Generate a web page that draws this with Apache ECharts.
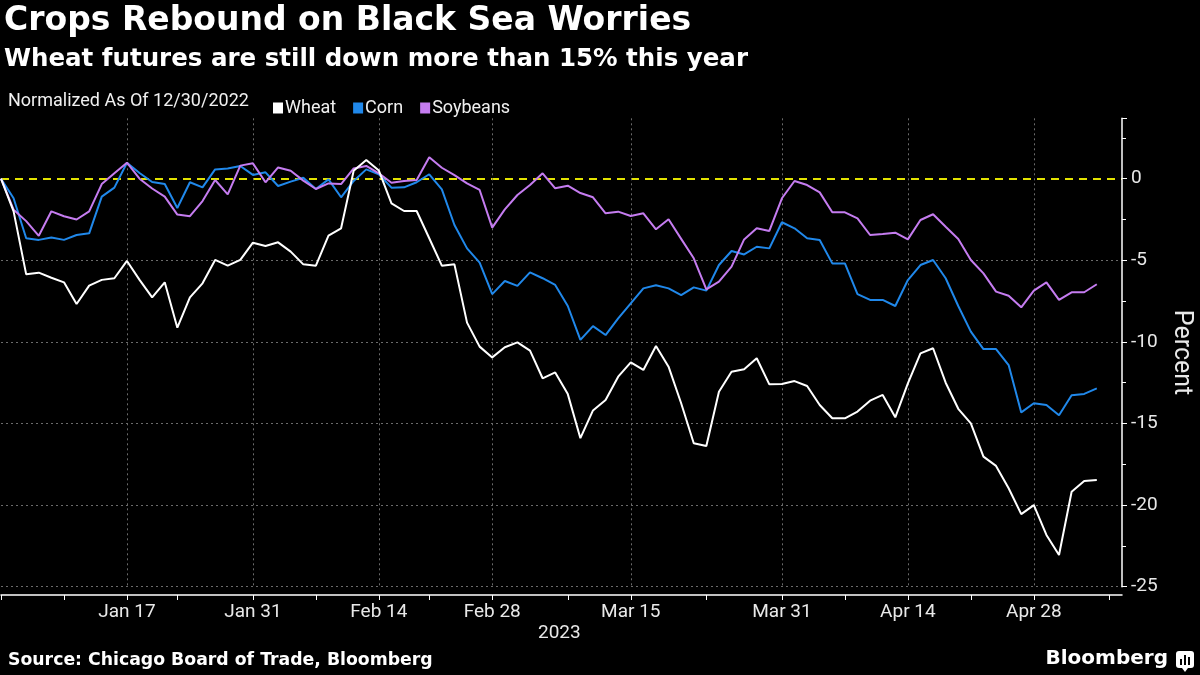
<!DOCTYPE html>
<html>
<head>
<meta charset="utf-8">
<title>Crops Rebound on Black Sea Worries</title>
<script src="https://cdn.jsdelivr.net/npm/echarts@6.0.0/dist/echarts.min.js"></script>
<style>
html, body { margin: 0; padding: 0; background: #000; }
#chart { width: 1200px; height: 675px; }
</style>
</head>
<body>
<div id="chart"></div>
<script>
// trading days, normalized to 12/30/2022 (two empty days pad the right end)
var dates = [
	'12/30',
	'1/3','1/4','1/5','1/6','1/9','1/10','1/11','1/12','1/13','1/17','1/18','1/19','1/20',
	'1/23','1/24','1/25','1/26','1/27','1/30','1/31',
	'2/1','2/2','2/3','2/6','2/7','2/8','2/9','2/10','2/13','2/14','2/15','2/16','2/17',
	'2/21','2/22','2/23','2/24','2/27','2/28',
	'3/1','3/2','3/3','3/6','3/7','3/8','3/9','3/10','3/13','3/14','3/15','3/16','3/17',
	'3/20','3/21','3/22','3/23','3/24','3/27','3/28','3/29','3/30','3/31',
	'4/3','4/4','4/5','4/6','4/7','4/10','4/11','4/12','4/13','4/14','4/17','4/18','4/19',
	'4/20','4/21','4/24','4/25','4/26','4/27','4/28',
	'5/1','5/2','5/3','5/4','5/5','5/8','5/9'
];
var labelDates = ['1/17','1/31','2/14','2/28','3/15','3/31','4/14','4/28'];
var tickDates = ['12/30','1/9','1/17','1/23','1/31','2/7','2/14','2/21','2/28','3/8','3/15',
	'3/23','3/31','4/7','4/14','4/21','4/28','5/8'];
var monthNames = ['Jan','Feb','Mar','Apr','May','Jun','Jul','Aug','Sep','Oct','Nov','Dec'];

var wheat = [
	0, -2.0, -5.86, -5.76, -6.07, -6.35, -7.68, -6.55, -6.2, -6.1, -5.04, -6.2, -7.27, -6.35,
	-9.13, -7.27, -6.41, -4.98, -5.33, -4.98, -3.92, -4.12, -3.9, -4.47, -5.25, -5.33, -3.49,
	-3.04, 0.49, 1.15, 0.5, -1.51, -1.98, -1.98, -3.65, -5.33, -5.25, -8.82, -10.29, -10.95,
	-10.33, -10.03, -10.54, -12.23, -11.87, -13.2, -15.9, -14.2, -13.56, -12.13, -11.25, -11.72,
	-10.25, -11.52, -13.76, -16.21, -16.38, -13.05, -11.83, -11.68, -11.0, -12.6, -12.58, -12.4,
	-12.7, -13.87, -14.68, -14.68, -14.27, -13.6, -13.25, -14.62, -12.54, -10.7, -10.39, -12.5,
	-14.1, -14.99, -17.03, -17.6, -18.97, -20.55, -20.0, -21.83, -23.06, -19.18, -18.52, -18.46
];
var corn = [
	0, -1.2, -3.65, -3.75, -3.6, -3.75, -3.45, -3.35, -1.1, -0.55, 0.98, 0.35, -0.2, -0.33,
	-1.8, -0.22, -0.53, 0.57, 0.63, 0.78, 0.23, 0.39, -0.45, -0.18, 0.06, -0.63, -0.04, -1.14,
	-0.14, 0.57, 0.27, -0.55, -0.53, -0.22, 0.27, -0.65, -2.84, -4.27, -5.14, -7.07, -6.27,
	-6.57, -5.74, -6.1, -6.51, -7.8, -9.88, -9.03, -9.58, -8.56, -7.64, -6.72, -6.53, -6.72,
	-7.13, -6.66, -6.86, -5.29, -4.43, -4.64, -4.17, -4.27, -2.67, -3.04, -3.65, -3.76, -5.19,
	-5.19, -7.07, -7.43, -7.43, -7.8, -6.21, -5.29, -4.98, -6.1, -7.8, -9.37, -10.44, -10.44,
	-11.42, -14.32, -13.76, -13.87, -14.5, -13.27, -13.19, -12.85
];
var soybeans = [
	0, -1.9, -2.6, -3.5, -2.0, -2.3, -2.5, -2.0, -0.33, 0.33, 0.98, 0.0, -0.6, -1.1, -2.2,
	-2.3, -1.37, -0.08, -0.96, 0.8, 0.94, -0.22, 0.69, 0.49, -0.12, -0.63, -0.29, -0.33, 0.63,
	0.78, 0.33, -0.25, -0.14, -0.08, 1.31, 0.67, 0.22, -0.29, -0.69, -3.0, -1.88, -1.0, -0.39,
	0.33, -0.59, -0.43, -0.88, -1.14, -2.12, -2.02, -2.29, -2.12, -3.1, -2.49, -3.69, -4.88,
	-6.78, -6.31, -5.39, -3.72, -3.04, -3.2, -1.2, -0.14, -0.39, -0.84, -2.06, -2.06, -2.43,
	-3.45, -3.39, -3.31, -3.72, -2.53, -2.18, -2.95, -3.7, -4.98, -5.8, -6.92, -7.17, -7.88,
	-6.86, -6.35, -7.43, -6.96, -6.96, -6.47
];

var myChart = echarts.init(document.getElementById('chart'));
var grey = '#6b6b6b';
var clear = 'rgba(0,0,0,0)';
var font = 'Roboto, "Liberation Sans", sans-serif';
var boldFont = '"DejaVu Sans", "Liberation Sans", sans-serif';

var option = {
	backgroundColor: '#000',
	animation: false,
	textStyle: { fontFamily: font },
	grid: { left: 1, right: 78, top: 118.3, bottom: 88.3, outerBoundsMode: 'none' },
	legend: {
		data: ['Wheat', 'Corn', 'Soybeans'],
		left: 268, top: 94,
		icon: 'rect', itemWidth: 10, itemHeight: 11, itemGap: 17,
		textStyle: { color: '#f0f0f0', fontSize: 18, fontFamily: font, padding: [0, 0, 0, -3] },
		selectedMode: false
	},
	xAxis: {
		type: 'category',
		data: dates,
		boundaryGap: false,
		offset: 8.3,
		axisLine: { onZero: false, lineStyle: { color: '#fff', width: 1.5 } },
		axisTick: {
			length: 5, lineStyle: { color: '#fff' },
			interval: function (i, v) { return tickDates.indexOf(v) >= 0; }
		},
		axisLabel: {
			color: '#e8e8e8', fontSize: 19, margin: 8,
			interval: function (i, v) { return labelDates.indexOf(v) >= 0; },
			formatter: function (v) {
				var p = v.split('/');
				return monthNames[p[0] - 1] + ' ' + p[1];
			}
		},
		splitLine: {
			show: true,
			interval: function (i, v) { return labelDates.indexOf(v) >= 0; },
			lineStyle: { color: grey, type: [2, 3], width: 1 }
		}
	},
	yAxis: [{
		type: 'value',
		position: 'right',
		min: -25, max: 3.7, interval: 5,
		name: 'Percent',
		nameLocation: 'middle',
		nameRotate: -90,
		nameGap: 47,
		nameTextStyle: { color: '#e8e8e8', fontSize: 25 },
		axisLine: { show: true, onZero: false, lineStyle: { color: '#fff', width: 1.5 } },
		axisTick: { show: true, length: 5, lineStyle: { color: '#fff' } },
		axisLabel: {
			color: '#e8e8e8', fontSize: 19, margin: 9,
			formatter: function (v) { return v % 5 === 0 ? String(v) : ''; }
		},
		splitLine: {
			show: true,
			lineStyle: {
				color: [grey, grey, grey, grey, grey, clear, clear],
				type: [2, 3], width: 1
			}
		}
	}, {
		// minor ticks only
		type: 'value',
		position: 'right',
		min: -25, max: 3.7, interval: 2.5,
		axisLine: { show: false, onZero: false },
		axisTick: { show: true, length: 4, lineStyle: { color: '#fff' } },
		axisLabel: { show: false },
		splitLine: { show: false }
	}, {
		// yellow dashed zero line
		type: 'value',
		position: 'right',
		min: -25, max: 3.7, interval: 25,
		axisLine: { show: false, onZero: false },
		axisTick: { show: false },
		axisLabel: { show: false },
		splitLine: {
			show: true,
			lineStyle: { color: [clear, '#e3e300', clear], type: [8, 6], width: 2 }
		}
	}],
	series: [{
		name: 'Wheat', type: 'line', data: wheat, z: 4,
		symbol: 'none', color: '#ffffff', lineStyle: { width: 2 }
	}, {
		name: 'Corn', type: 'line', data: corn, z: 2,
		symbol: 'none', color: '#2088ea', lineStyle: { width: 2 }
	}, {
		name: 'Soybeans', type: 'line', data: soybeans, z: 3,
		symbol: 'none', color: '#c57cf0', lineStyle: { width: 2 }
	}],
	graphic: [
		{ type: 'text', left: 4, top: 5,
			style: { text: 'Crops Rebound on Black Sea Worries', fill: '#fff',
				font: 'bold 33px ' + boldFont } },
		{ type: 'text', left: 4, top: 47,
			style: { text: 'Wheat futures are still down more than 15% this year', fill: '#fff',
				font: 'bold 24.5px ' + boldFont } },
		{ type: 'text', left: 8, top: 92,
			style: { text: 'Normalized As Of 12/30/2022', fill: '#f0f0f0',
				font: '18px ' + font } },
		{ type: 'text', left: 538, top: 624,
			style: { text: '2023', fill: '#e8e8e8', font: '19px ' + font } },
		{ type: 'text', left: 8, top: 652,
			style: { text: 'Source: Chicago Board of Trade, Bloomberg', fill: '#fff',
				font: 'bold 17.3px ' + boldFont } },
		{ type: 'text', right: 32, top: 649,
			style: { text: 'Bloomberg', fill: '#fff',
				font: 'bold 20px ' + boldFont } },
		{ type: 'group', right: 6, top: 651, children: [
			{ type: 'rect', shape: { x: 0, y: 0, width: 18, height: 17, r: 3 }, style: { fill: '#fff' } },
			{ type: 'polygon', shape: { points: [[6, 17], [12, 17], [9, 21]] }, style: { fill: '#fff' } },
			{ type: 'rect', shape: { x: 4, y: 8, width: 2, height: 6 }, style: { fill: '#000' } },
			{ type: 'rect', shape: { x: 8, y: 4, width: 2, height: 10 }, style: { fill: '#000' } },
			{ type: 'rect', shape: { x: 12, y: 6, width: 2, height: 8 }, style: { fill: '#000' } }
		] }
	]
};
myChart.setOption(option);
</script>
</body>
</html>
